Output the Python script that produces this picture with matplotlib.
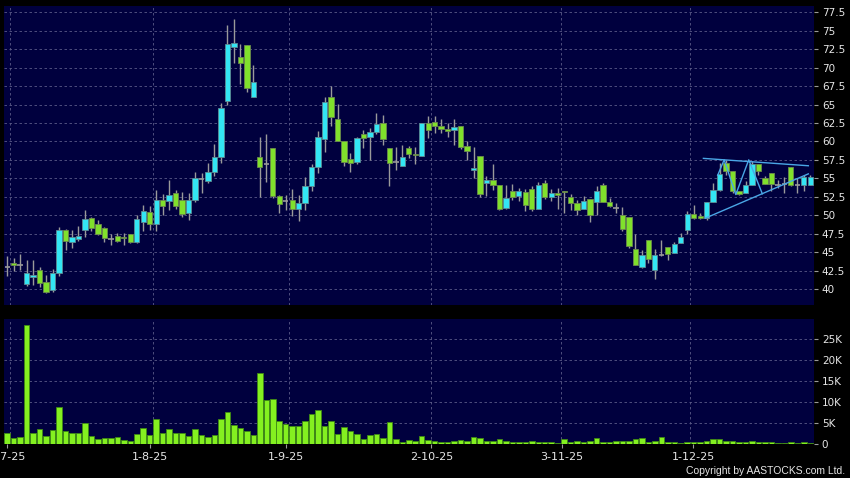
import numpy as np
import matplotlib
matplotlib.use("Agg")
import matplotlib.pyplot as plt
from matplotlib.ticker import FuncFormatter

# daily candles, 2 Jul 2025 onwards (one entry per trading day)
opens = [43.0, 43.5, 43.3, 40.7, 41.6, 42.6, 40.9, 39.9, 42.1, 48.0,
         46.3, 46.8, 48.0, 49.6, 48.8, 48.2, 46.8, 47.2, 47.1, 47.4,
         46.3, 49.1, 50.4, 48.8, 52.0, 51.9, 53.0, 52.0, 50.25, 52.0,
         54.9, 54.7, 55.9, 57.9, 65.5, 72.75, 71.5, 73.0, 66.0, 57.85,
         57.0, 59.1, 52.65, 51.9, 52.06, 50.8, 51.6, 54.0, 56.5, 60.3,
         66.06, 63.1, 60.0, 57.6, 57.25, 60.95, 60.6, 61.3, 62.45, 59.07,
         57.25, 56.6, 59.1, 58.25, 58.0, 62.5, 62.6, 62.14, 61.7, 61.6,
         62.14, 59.43, 56.14, 58.08, 54.3, 54.83, 54.15, 50.95, 53.34, 52.57,
         53.2, 53.6, 50.9, 54.32, 52.41, 52.95, 53.3, 52.5, 51.6, 50.9,
         52.14, 51.8, 54.05, 51.73, 51.0, 50.0, 49.77, 45.45, 42.95, 46.68,
         42.6, 44.6, 45.68, 44.86, 46.27, 48.0, 50.18, 49.87, 49.65, 51.8,
         53.46, 57.05, 55.93, 53.24, 53.0, 54.13, 56.92, 55.03, 55.7, 54.13,
         54.2, 56.47, 54.13, 54.04, 54.04]
highs = [44.5, 44.2, 44.8, 43.9, 43.9, 43.0, 41.9, 42.7, 48.4, 48.1,
         48.0, 48.5, 50.7, 49.8, 49.4, 48.4, 47.5, 47.6, 47.6, 47.5,
         50.0, 51.4, 51.2, 53.4, 52.9, 54.8, 53.4, 53.1, 53.0, 55.8,
         55.7, 57.1, 59.65, 65.2, 75.8, 76.6, 73.15, 73.0, 70.35, 60.6,
         61.0, 59.1, 52.7, 52.7, 53.5, 52.7, 55.2, 56.9, 61.4, 66.06,
         67.5, 65.07, 60.0, 58.4, 60.6, 61.5, 61.77, 63.9, 63.55, 59.1,
         59.3, 59.5, 59.4, 59.3, 62.5, 63.5, 63.5, 63.04, 62.5, 63.04,
         62.14, 60.0, 59.25, 58.08, 55.28, 57.0, 54.15, 54.15, 54.29, 53.7,
         53.56, 53.93, 54.47, 54.77, 53.5, 53.64, 53.3, 52.86, 52.05, 52.6,
         52.14, 53.95, 54.3, 52.27, 51.68, 51.05, 49.77, 47.4, 45.23, 46.68,
         45.45, 46.7, 45.68, 46.36, 47.55, 50.6, 51.44, 50.32, 51.8, 54.36,
         57.05, 57.5, 55.93, 53.24, 54.67, 57.28, 56.92, 55.26, 55.7, 54.8,
         55.12, 56.47, 55.03, 55.48, 55.4]
lows = [41.7, 42.4, 42.6, 40.4, 40.6, 40.3, 39.5, 39.6, 41.7, 45.3,
        45.5, 46.5, 47.0, 47.8, 47.3, 46.3, 46.0, 46.3, 46.0, 46.2,
        46.2, 47.8, 48.0, 47.9, 50.0, 50.7, 50.9, 49.8, 49.35, 51.8,
        53.0, 54.3, 55.3, 57.1, 65.0, 70.6, 67.8, 66.7, 66.0, 52.4,
        54.5, 52.3, 50.3, 50.7, 49.9, 49.25, 50.7, 53.3, 55.7, 58.6,
        62.1, 60.0, 56.6, 55.9, 57.0, 59.07, 57.5, 61.0, 59.5, 54.0,
        56.1, 56.6, 57.8, 56.9, 58.0, 60.5, 61.15, 61.15, 60.56, 59.57,
        58.98, 57.54, 55.05, 52.48, 52.66, 53.47, 50.77, 50.86, 52.12, 51.9,
        50.54, 50.54, 50.9, 52.14, 51.95, 50.9, 50.23, 50.68, 50.0, 50.9,
        49.1, 50.0, 51.73, 51.14, 50.23, 47.86, 45.6, 43.3, 42.86, 43.5,
        41.36, 44.5, 43.95, 44.86, 46.27, 47.45, 49.42, 49.42, 49.4, 51.8,
        53.33, 55.48, 53.0, 52.79, 53.0, 54.13, 55.48, 54.22, 53.24, 53.7,
        53.0, 53.9, 53.0, 53.24, 54.04]
closes = [43.0, 43.2, 43.3, 42.1, 41.9, 40.8, 39.6, 42.1, 48.0, 46.5,
          47.0, 47.2, 49.5, 48.2, 47.5, 46.9, 46.8, 46.5, 46.9, 46.3,
          49.5, 50.6, 48.8, 52.1, 51.3, 52.7, 51.3, 50.1, 52.0, 55.0,
          54.9, 55.9, 57.9, 64.5, 73.2, 73.4, 70.6, 67.3, 68.0, 56.5,
          57.0, 52.65, 51.5, 51.9, 50.8, 51.6, 54.0, 56.5, 60.6, 65.3,
          63.35, 60.0, 57.25, 57.1, 60.4, 60.4, 61.3, 62.35, 60.27, 57.1,
          57.25, 57.85, 58.3, 58.1, 62.5, 61.5, 62.1, 61.7, 61.4, 61.96,
          59.25, 58.66, 56.45, 52.9, 54.83, 54.1, 50.86, 52.35, 52.44, 53.25,
          51.44, 50.9, 54.15, 52.41, 52.95, 52.68, 53.1, 51.6, 50.77, 51.95,
          50.0, 53.3, 51.73, 51.27, 51.0, 48.18, 45.77, 43.3, 44.55, 44.1,
          44.55, 44.6, 44.77, 46.05, 47.08, 50.15, 49.56, 49.65, 51.8, 53.46,
          55.57, 55.93, 53.24, 52.88, 54.04, 56.92, 55.93, 54.22, 54.22, 54.13,
          54.2, 54.13, 54.13, 55.2, 55.12]
volumes = [2400, 1360, 1500, 28400, 2500, 3400, 1700, 3200, 8800, 3000,
           2500, 2500, 4800, 1700, 1040, 1300, 1200, 1440, 880, 480,
           2300, 3800, 2000, 5900, 2500, 3450, 2400, 2600, 1900, 3450,
           2000, 1600, 2000, 5850, 7600, 4400, 3800, 2900, 2100, 16900,
           10300, 10700, 5500, 4600, 4250, 4250, 5400, 7000, 7900, 4250,
           5300, 2200, 3850, 2900, 2200, 1040, 2000, 2200, 1300, 5050,
           1040, 240, 720, 480, 1760, 800, 650, 300, 300, 500,
           800, 700, 1450, 1300, 550, 550, 960, 550, 240, 240,
           240, 700, 300, 240, 240, 200, 1050, 400, 480, 300,
           500, 1200, 240, 240, 700, 550, 550, 960, 1200, 240,
           480, 1450, 300, 300, 160, 400, 300, 300, 650, 1100,
           960, 650, 550, 240, 240, 700, 400, 400, 300, 160,
           160, 300, 160, 240, 160]

date_labels = ["2-7-25", "1-8-25", "1-9-25", "2-10-25", "3-11-25", "1-12-25"]
date_pos = [0, 22, 43, 65.5, 85.7, 105.9]
grid_pos = [0.5, 22.5, 43.5, 65.5, 85.5, 105.5]

# hand drawn triangle on the right
upper_line_x, upper_line_y = [107.5, 123.7], [57.7, 56.7]
lower_line_x, lower_line_y = [107.8, 123.7], [49.6, 55.6]
zigzag_x = [109.7, 110.7, 112.5, 114.5, 116.6]
zigzag_y = [55.4, 57.5, 52.8, 57.5, 52.9]

o = np.array(opens); h = np.array(highs); l = np.array(lows); c = np.array(closes)
x = np.arange(len(o))

CYAN = "#33e6f4"
GREEN = "#80e02c"
GRAY = "#9a9a9a"
BG = "#00003e"
GRID = "#5a5a88"
TXT = "#e6e6e6"

fig = plt.figure(figsize=(8.5, 4.78), dpi=100, facecolor="black")
ax = fig.add_axes([4/850, 1-305/478, 809.5/850, 299.3/478])
axv = fig.add_axes([4/850, 1-443.5/478, 809.5/850, 124.5/478])

for a in (ax, axv):
    a.set_facecolor(BG)
    for s in a.spines.values():
        s.set_visible(False)
    a.set_xlim(-0.5, 124.5)
    a.yaxis.tick_right()
    a.tick_params(axis="y", colors=GRAY, labelcolor=TXT, length=3, width=0.8,
                  pad=3, labelsize=7.5)
    a.grid(axis="y", color=GRID, linestyle=(0, (3, 3)), linewidth=0.6)
    for g in grid_pos:
        a.axvline(g, color=GRID, linestyle=(0, (3, 3)), linewidth=0.6, zorder=0.5)
    a.set_axisbelow(True)

# price panel
ax.set_ylim(37.83, 78.39)
ax.set_yticks(np.arange(40, 77.6, 2.5))
ax.yaxis.set_major_formatter(FuncFormatter(lambda v, p: f"{v:g}"))
ax.set_xticks([])

ax.vlines(x, l, h, color=GRAY, linewidth=1, zorder=2)
up = c > o
dn = c < o
eq = c == o
bot = np.minimum(o, c)
hgt = np.maximum(np.abs(c - o), 0.15)
ax.bar(x[up], hgt[up], bottom=bot[up], width=0.82, color=CYAN,
       edgecolor="#5c8c94", linewidth=0.6, zorder=3)
ax.bar(x[dn], hgt[dn], bottom=bot[dn], width=0.82, color=GREEN,
       edgecolor="#6b8a4c", linewidth=0.6, zorder=3)
ax.hlines(c[eq], x[eq] - 0.42, x[eq] + 0.42, color=GRAY, linewidth=1.2, zorder=3)

ax.plot(upper_line_x, upper_line_y, color="#4aa6e6", linewidth=1, zorder=4)
ax.plot(lower_line_x, lower_line_y, color="#4aa6e6", linewidth=1, zorder=4)
ax.plot(zigzag_x, zigzag_y, color="#4aa6e6", linewidth=1, zorder=4)

# volume panel
axv.bar(x, volumes, width=0.85, color="#84f020", edgecolor="#3f8a14",
        linewidth=0.6, zorder=3)
axv.set_ylim(0, 29800)
axv.set_yticks(range(0, 25001, 5000))
axv.yaxis.set_major_formatter(FuncFormatter(lambda v, p: "0" if v == 0 else f"{v/1000:g}K"))
axv.set_xticks(date_pos)
axv.set_xticklabels(date_labels)
axv.tick_params(axis="x", colors=GRAY, labelcolor=TXT, length=3, width=0.8,
                pad=3, labelsize=8)

fig.text(845/850, 1-471/478, "Copyright by AASTOCKS.com Ltd.", ha="right",
         va="center", color=TXT, fontsize=7.5, family="Liberation Sans")

fig.savefig("out.png", dpi=100, facecolor="black")
